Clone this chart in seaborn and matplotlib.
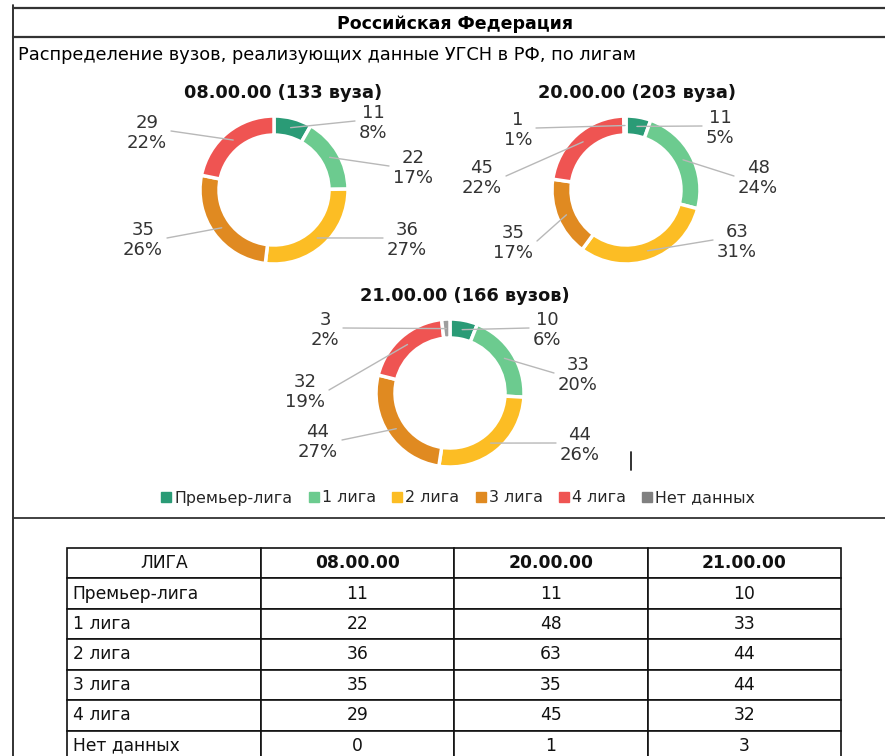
import numpy as np
import matplotlib
matplotlib.use("Agg")
import matplotlib.pyplot as plt
import seaborn as sns
from matplotlib.lines import Line2D

# data
leagues = ["Премьер-лига", "1 лига", "2 лига", "3 лига", "4 лига", "Нет данных"]
codes = ["08.00.00", "20.00.00", "21.00.00"]
counts_08 = [11, 22, 36, 35, 29, 0]
counts_20 = [11, 48, 63, 35, 45, 1]
counts_21 = [10, 33, 44, 44, 32, 3]
chart_titles = ["08.00.00 (133 вуза)", "20.00.00 (203 вуза)", "21.00.00 (166 вузов)"]
main_title = "Российская Федерация"
subtitle = "Распределение вузов, реализующих данные УГСН в РФ, по лигам"

colors = ["#2a9b76", "#6ccb8f", "#fcbd24", "#e08a21", "#ef5452", "#9e9e9e"]

# layout (pixels, y down)
W, H = 885, 756
centers = [(274, 190), (626, 190), (450, 393)]
title_pos = [(283, 93), (637, 93), (465, 296)]
label_offsets = [
    [(99, -67), (139, -22), (133, 50), (-131, 50), (-127, -57), None],
    [(94, -62), (132, -12), (111, 52), (-113, 53), (-144, -12), (-108, -60)],
    [(97, -63), (128, -18), (130, 52), (-132, 49), (-145, -1), (-125, -63)],
]
R = 74
RING = 19


def Y(py):
    return H - py


def pct_labels(vals):
    # largest remainder rounding, like the spreadsheet does
    vals = np.array(vals, dtype=float)
    raw = vals / vals.sum() * 100
    fl = np.floor(raw).astype(int)
    rem = raw - fl
    left = 100 - fl.sum()
    order = sorted(range(len(vals)), key=lambda i: (-round(rem[i], 9), -i))
    for i in order[:left]:
        fl[i] += 1
    return fl


sns.set_theme(style="white")
plt.rcParams["font.family"] = ["DejaVu Sans"]

fig = plt.figure(figsize=(W / 100, H / 100), dpi=100)
ax = fig.add_axes([0, 0, 1, 1])

# frame lines
ax.plot([13, 13], [Y(5), Y(760)], color="#222222", lw=1.3)
for py in [8, 37]:
    ax.plot([13, W], [Y(py), Y(py)], color="#333333", lw=1.6)
ax.plot([13, W], [Y(518), Y(518)], color="#333333", lw=1.3)

ax.text(455, Y(24), main_title, ha="center", va="center", fontsize=12.5,
        fontweight="bold", color="black")
ax.text(18, Y(55), subtitle, ha="left", va="center", fontsize=12.8, color="black")

for k, vals in enumerate([counts_08, counts_20, counts_21]):
    cx, cy = centers[k]
    idx = [i for i, v in enumerate(vals) if v > 0]
    v_draw = [vals[i] for i in idx]
    ax.pie(v_draw, colors=[colors[i] for i in idx], startangle=90, counterclock=False,
           radius=R, center=(cx, Y(cy)), frame=True,
           wedgeprops=dict(width=RING, edgecolor="white", linewidth=2.5))
    ax.text(title_pos[k][0], Y(title_pos[k][1]), chart_titles[k], ha="center",
            va="center", fontsize=12.8, fontweight="bold", color="#111111")

    pcts = pct_labels(vals)
    total = float(sum(vals))
    cum = np.cumsum([0] + list(vals))
    for i, v in enumerate(vals):
        if v == 0:
            continue
        mid = (cum[i] + v / 2) / total * 2 * np.pi
        rm = R - RING / 2
        sx, sy = cx + rm * np.sin(mid), cy - rm * np.cos(mid)
        dx, dy = label_offsets[k][i]
        lx, ly = cx + dx, cy + dy
        txt = f"{v}\n{pcts[i]}%"
        half = max(len(s) for s in txt.split("\n")) * 6 + 6
        ex = lx - np.sign(dx) * half
        ey = ly - 2
        ax.plot([sx, ex], [Y(sy), Y(ey)], color="#b8b8b8", lw=1, zorder=3)
        ax.text(lx, Y(ly), txt, ha="center", va="center", fontsize=13,
                color="#333333", linespacing=1.1)

# small cursor mark
ax.plot([631, 631], [Y(452), Y(470)], color="#222222", lw=1.3)

# legend
leg_colors = colors[:-1] + ["#808080"]
handles = [Line2D([], [], marker="s", ls="", color=c, markersize=7) for c in leg_colors]
fig.legend(handles, leagues, loc="center", bbox_to_anchor=(458 / W, 1 - 498 / H),
           ncol=6, frameon=False, fontsize=11.4, handlelength=0.7,
           handletextpad=0.15, columnspacing=1.0, borderaxespad=0)

# table
cell_text = [[leagues[i], str(counts_08[i]), str(counts_20[i]), str(counts_21[i])]
             for i in range(len(leagues))]
col_labels = ["ЛИГА"] + codes
tb = ax.table(cellText=cell_text, colLabels=col_labels, cellLoc="center",
              bbox=[67 / W, 1 - 761 / H, (841 - 67) / W, 213 / H])
tb.auto_set_font_size(False)
tb.set_fontsize(12.3)
for (r, c), cell in tb.get_celld().items():
    cell.set_edgecolor("#111111")
    cell.set_linewidth(1.2)
    cell.get_text().set_color("#111111")
    if r == 0 and c > 0:
        cell.get_text().set_fontweight("bold")
    if r > 0 and c == 0:
        cell.get_text().set_ha("left")
        cell._loc = "left"
        cell.PAD = 0.03

ax.set_xlim(0, W)
ax.set_ylim(0, H)
ax.set_aspect("auto")
ax.axis("off")

fig.savefig("out.png", dpi=100)
